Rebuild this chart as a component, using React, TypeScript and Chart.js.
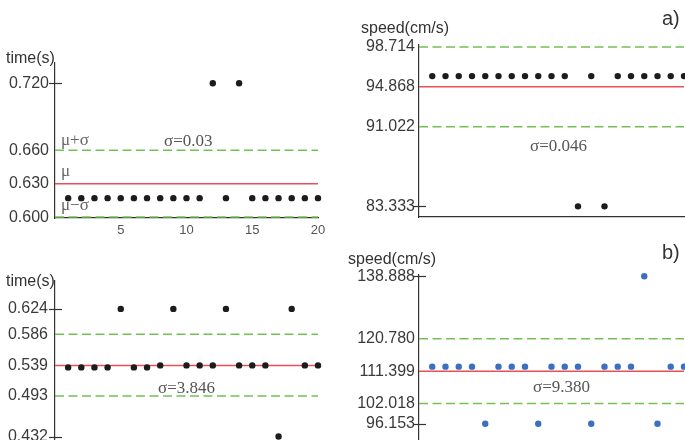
import React, { useEffect, useRef } from 'react';
import { Chart, registerables } from 'chart.js';

Chart.register(...registerables);

// ---------- data ----------
const trials = [1, 2, 3, 4, 5, 6, 7, 8, 9, 10, 11, 12, 13, 14, 15, 16, 17, 18, 19, 20];
const xTickValues = [5, 10, 15, 20];

// a) time and speed
const timeA = [0.617, 0.617, 0.617, 0.617, 0.617, 0.617, 0.617, 0.617, 0.617, 0.617, 0.617, 0.720, 0.617, 0.720, 0.617, 0.617, 0.617, 0.617, 0.617, 0.617];
const speedA = [95.9, 95.9, 95.9, 95.9, 95.9, 95.9, 95.9, 95.9, 95.9, 95.9, 95.9, 83.333, 95.9, 83.333, 95.9, 95.9, 95.9, 95.9, 95.9, 95.9];
// b) time and speed
const timeB = [0.536, 0.536, 0.536, 0.536, 0.624, 0.536, 0.536, 0.539, 0.624, 0.539, 0.539, 0.539, 0.624, 0.539, 0.539, 0.539, 0.432, 0.624, 0.539, 0.539];
const speedB = [112.7, 112.7, 112.7, 112.7, 96.153, 112.7, 112.7, 112.7, 96.153, 112.7, 112.7, 112.7, 96.153, 112.7, 112.7, 112.7, 138.888, 96.153, 112.7, 112.7];

// y tick labels
const timeATicks = [0.600, 0.630, 0.660, 0.720];
const speedATicks = [83.333, 91.022, 94.868, 98.714];
const timeBTicks = [0.432, 0.493, 0.539, 0.586, 0.624];
const speedBTicks = [96.153, 102.018, 111.399, 120.780, 138.888];

// [mu - sigma, mu, mu + sigma]
const timeABand = [0.600, 0.630, 0.660];
const speedABand = [91.022, 94.868, 98.714];
const timeBBand = [0.493, 0.539, 0.586];
const speedBBand = [102.018, 111.399, 120.780];

// ticks that carry a cross mark on the axis
const timeAMarked = [0.720];
const speedAMarked = [83.333];
const timeBMarked = [0.624, 0.432];
const speedBMarked = [138.888, 96.153];

const sigmaLabels = ['σ=0.03', 'σ=0.046', 'σ=3.846', 'σ=9.380'];
const timeTitle = 'time(s)';
const speedTitle = 'speed(cm/s)';

// ---------- styles ----------
const RED = '#ea4f58';
const GREEN = '#72c153';
const AXIS = '#333333';
const SANS = '"Liberation Sans", Arial, sans-serif';
const SERIF = '"Liberation Serif", "Times New Roman", serif';

type TextItem = { text: string; x: number; y: number; font: string; color: string };

type PanelCfg = {
  left: number; top: number; width: number; height: number;
  padding: { top: number; right: number; bottom: number; left: number };
  yWidth: number; yMin: number; yMax: number; yPad: number;
  values: number[]; ticks: number[]; band: number[]; marked: number[];
  dot: string;
  xMode: 'labels' | 'line' | 'none'; xHeight: number;
  texts: TextItem[];
};

const panels: PanelCfg[] = [
  {
    left: 0, top: 0, width: 340, height: 240,
    padding: { top: 63, right: 22, bottom: 0, left: 0 },
    yWidth: 55, yMin: 0.5992, yMax: 0.7382, yPad: 6,
    values: timeA, ticks: timeATicks, band: timeABand, marked: timeAMarked,
    dot: '#1c1c1c', xMode: 'labels', xHeight: 22,
    texts: [
      { text: timeTitle, x: 6, y: 59, font: `16px ${SANS}`, color: '#333' },
      { text: 'μ+σ', x: 61, y: 140.5, font: `17px ${SERIF}`, color: '#666' },
      { text: 'μ', x: 61, y: 172, font: `17px ${SERIF}`, color: '#666' },
      { text: 'μ−σ', x: 61, y: 205.5, font: `17px ${SERIF}`, color: '#666' },
      { text: sigmaLabels[0], x: 164, y: 141.7, font: `17px ${SERIF}`, color: '#555' },
    ],
  },
  {
    left: 340, top: 0, width: 345, height: 240,
    padding: { top: 45, right: 1, bottom: 13, left: 0 },
    yWidth: 79, yMin: 82.306, yMax: 98.898, yPad: 4,
    values: speedA, ticks: speedATicks, band: speedABand, marked: speedAMarked,
    dot: '#1c1c1c', xMode: 'line', xHeight: 10,
    texts: [
      { text: speedTitle, x: 361, y: 29, font: `16px ${SANS}`, color: '#333' },
      { text: 'a)', x: 662, y: 19, font: `20px ${SANS}`, color: '#333' },
      { text: sigmaLabels[1], x: 530, y: 147, font: `17px ${SERIF}`, color: '#555' },
    ],
  },
  {
    left: 0, top: 240, width: 340, height: 250,
    padding: { top: 41, right: 22, bottom: 24, left: 0 },
    yWidth: 55, yMin: 0.38773, yMax: 0.66593, yPad: 7,
    values: timeB, ticks: timeBTicks, band: timeBBand, marked: timeBMarked,
    dot: '#1c1c1c', xMode: 'none', xHeight: 0,
    texts: [
      { text: timeTitle, x: 6, y: 282, font: `16px ${SANS}`, color: '#333' },
      { text: sigmaLabels[2], x: 158, y: 389, font: `17px ${SERIF}`, color: '#555' },
    ],
  },
  {
    left: 340, top: 240, width: 345, height: 250,
    padding: { top: 35, right: 1, bottom: 24, left: 0 },
    yWidth: 79, yMin: 83.93, yMax: 139.23, yPad: 4,
    values: speedB, ticks: speedBTicks, band: speedBBand, marked: speedBMarked,
    dot: '#3b6fc0', xMode: 'none', xHeight: 0,
    texts: [
      { text: speedTitle, x: 348, y: 260, font: `16px ${SANS}`, color: '#333' },
      { text: 'b)', x: 662, y: 253, font: `20px ${SANS}`, color: '#333' },
      { text: sigmaLabels[3], x: 533, y: 388, font: `17px ${SERIF}`, color: '#555' },
    ],
  },
];

function Panel({ cfg }: { cfg: PanelCfg }) {
  const ref = useRef<HTMLCanvasElement | null>(null);

  useEffect(() => {
    const canvas = ref.current;
    if (!canvas) return;
    const xStart = 0;
    const xEnd = trials[trials.length - 1];

    const decorPlugin = {
      id: 'decor' + cfg.left + '_' + cfg.top,
      afterDraw(chart: any) {
        const ctx = chart.ctx as CanvasRenderingContext2D;
        const yScale = chart.scales.y;
        const axisX = chart.chartArea.left;
        ctx.save();
        // cross marks on outer ticks
        ctx.strokeStyle = AXIS;
        ctx.lineWidth = 1.2;
        cfg.marked.forEach((v) => {
          const py = Math.round(yScale.getPixelForValue(v)) + 0.5;
          ctx.beginPath();
          ctx.moveTo(axisX - 6, py);
          ctx.lineTo(axisX + 7, py);
          ctx.stroke();
        });
        // annotation texts
        ctx.textAlign = 'left';
        ctx.textBaseline = 'middle';
        cfg.texts.forEach((t) => {
          ctx.font = t.font;
          ctx.fillStyle = t.color;
          ctx.fillText(t.text, t.x - cfg.left, t.y - cfg.top);
        });
        ctx.restore();
      },
    };

    const hLine = (y: number, color: string, dash: number[]) => ({
      data: [{ x: xStart, y }, { x: xEnd, y }],
      showLine: true,
      borderColor: color,
      backgroundColor: color,
      borderWidth: 1.5,
      borderDash: dash,
      pointRadius: 0,
      clip: false,
      order: 2,
    });

    const chart = new Chart(canvas, {
      type: 'scatter',
      data: {
        datasets: [
          {
            data: trials.map((x, i) => ({ x, y: cfg.values[i] })),
            backgroundColor: cfg.dot,
            borderColor: cfg.dot,
            pointRadius: 3.2,
            pointBorderWidth: 0,
            clip: false,
            order: 0,
          } as any,
          hLine(cfg.band[1], RED, []),
          hLine(cfg.band[2], GREEN, [9, 4.5]),
          hLine(cfg.band[0], GREEN, [9, 4.5]),
        ],
      },
      options: {
        responsive: false,
        animation: false,
        events: [],
        layout: { padding: cfg.padding, autoPadding: false },
        plugins: { legend: { display: false }, tooltip: { enabled: false } },
        scales: {
          x: {
            type: 'linear',
            min: xStart,
            max: xEnd,
            display: cfg.xMode !== 'none',
            afterFit: (s: any) => { s.height = cfg.xHeight; },
            afterBuildTicks: (s: any) => { s.ticks = xTickValues.map((v) => ({ value: v })); },
            grid: { display: false, drawTicks: false },
            border: { display: true, color: AXIS, width: 1.2 },
            ticks: {
              display: cfg.xMode === 'labels',
              autoSkip: false,
              maxRotation: 0,
              padding: 5,
              color: '#555',
              font: { family: SANS, size: 13 },
            },
          },
          y: {
            type: 'linear',
            min: cfg.yMin,
            max: cfg.yMax,
            afterFit: (s: any) => { s.width = cfg.yWidth; },
            afterBuildTicks: (s: any) => { s.ticks = cfg.ticks.map((v) => ({ value: v })); },
            grid: { display: false, drawTicks: false },
            border: { display: true, color: AXIS, width: 1.2 },
            ticks: {
              autoSkip: false,
              padding: cfg.yPad,
              color: '#3a3a3a',
              font: { family: SANS, size: 16 },
              callback: (v: any) => Number(v).toFixed(3),
            },
          },
        },
      } as any,
      plugins: [decorPlugin],
    });
    return () => chart.destroy();
  }, [cfg]);

  return (
    <canvas
      ref={ref}
      width={cfg.width}
      height={cfg.height}
      style={{ position: 'absolute', left: cfg.left, top: cfg.top, width: cfg.width, height: cfg.height }}
    />
  );
}

export default function App() {
  return (
    <div
      style={{
        position: 'fixed',
        left: 0,
        top: 0,
        width: 685,
        height: 440,
        overflow: 'hidden',
        background: '#ffffff',
      }}
    >
      {panels.map((p, i) => (
        <Panel key={i} cfg={p} />
      ))}
    </div>
  );
}
